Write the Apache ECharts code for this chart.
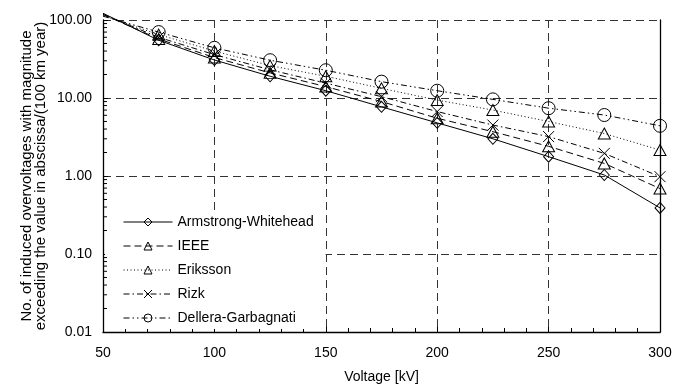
<!DOCTYPE html>
<html>
<head>
<meta charset="utf-8">
<script src="https://cdn.jsdelivr.net/npm/echarts@6/dist/echarts.min.js"></script>
<style>html,body{margin:0;padding:0;background:#fff}#c{width:686px;height:385px}</style>
</head>
<body>
<div id="c"></div>
<script>
const voltage = [50, 75, 100, 125, 150, 175, 200, 225, 250, 275, 300];
const armstrong = [122, 55, 30.7, 19, 12.4, 7.7, 4.8, 3.0, 1.77, 1.03, 0.39];
const ieee = [118, 57, 33, 21, 14, 9.0, 5.5, 3.7, 2.4, 1.45, 0.69];
const eriksson = [114, 65, 40, 26, 19, 13.3, 9.4, 7.0, 5.0, 3.5, 2.15];
const rizk = [118, 60, 36, 23, 15.5, 10.4, 6.7, 4.5, 3.2, 1.95, 0.98];
const dellera = [112, 70, 44, 30.5, 22.7, 16.2, 12.4, 9.6, 7.4, 6.05, 4.4];
const seriesNames = ['Armstrong-Whitehead', 'IEEE', 'Eriksson', 'Rizk', 'Dellera-Garbagnati'];

const font = 'Liberation Sans, Arial, sans-serif';
const fs = 14;
const xPath = 'path://M0,0L10,10M10,0L0,10';

const defs = [
  { data: armstrong, symbol: 'diamond', size: [10, 11], dash: 'solid' },
  { data: ieee, symbol: 'triangle', size: [12, 11], dash: [7, 4] },
  { data: eriksson, symbol: 'triangle', size: [12, 11], dash: [1, 2.5] },
  { data: rizk, symbol: xPath, size: [11, 11], dash: [6, 3, 1.5, 3] },
  { data: dellera, symbol: 'circle', size: 13, dash: [6, 3, 1.5, 3, 1.5, 3] }
];

const minorVals = [];
for (let e = -2; e < 2; e++) {
  for (let m = 2; m <= 9; m++) minorVals.push([50, m * Math.pow(10, e)]);
}

const series = defs.map((d, i) => ({
  name: seriesNames[i],
  type: 'line',
  clip: false,
  symbol: d.symbol,
  symbolSize: d.size,
  showAllSymbol: true,
  data: voltage.map((x, k) => k === 0 ? { value: [x, d.data[k]], symbol: 'none' } : [x, d.data[k]]),
  lineStyle: { color: '#000', width: 1, type: d.dash },
  itemStyle: { color: 'rgba(255,255,255,0)', borderColor: '#000', borderWidth: 1 },
  emphasis: { disabled: true },
  z: 3
}));

series.push({
  type: 'custom',
  silent: true,
  data: minorVals,
  renderItem: function (params, api) {
    const p = api.coord([api.value(0), api.value(1)]);
    return { type: 'line', shape: { x1: p[0], y1: p[1], x2: p[0] + 4, y2: p[1] }, style: { stroke: '#000', lineWidth: 1 } };
  },
  z: 4
});

const chart = echarts.init(document.getElementById('c'));
chart.setOption({
  animation: false,
  backgroundColor: '#fff',
  grid: { left: 103, right: 26, top: 20, bottom: 53, containLabel: false, outerBoundsMode: 'none' },
  xAxis: {
    type: 'value', min: 50, max: 300, interval: 50,
    name: 'Voltage [kV]', nameLocation: 'middle', nameGap: 38,
    nameTextStyle: { color: '#000', fontSize: fs, fontFamily: font },
    axisLine: { lineStyle: { color: '#000', width: 1.3 } },
    axisTick: { inside: true, length: 5, lineStyle: { color: '#000' } },
    minorTick: { show: true, splitNumber: 5, length: 4, lineStyle: { color: '#000' } },
    axisLabel: { color: '#000', fontSize: fs, fontFamily: font, margin: 14 },
    splitLine: { show: true, lineStyle: { color: '#333', type: [8, 5], width: 1 } }
  },
  yAxis: [{
    type: 'log', logBase: 10, min: 0.01, max: 100,
    name: 'No. of induced overvoltages with magnitude\nexceeding the value in abscissa/(100 km year)',
    nameLocation: 'middle', nameGap: 55, nameRotate: 90, nameMoveOverlap: false,
    nameTextStyle: { color: '#000', fontSize: 15, fontFamily: font, lineHeight: 14 },
    axisLine: { show: true, lineStyle: { color: '#000', width: 1.3 } },
    axisTick: { show: true, inside: true, length: 5, lineStyle: { color: '#000' } },
    axisLabel: { color: '#000', fontSize: fs, fontFamily: font, margin: 11, formatter: v => Number(v).toFixed(2) },
    splitLine: { show: true, lineStyle: { color: '#333', type: [8, 5], width: 1 } }
  }, {
    type: 'log', logBase: 10, min: 0.01, max: 100, position: 'right',
    axisLine: { show: true, lineStyle: { color: '#000', width: 1.3 } },
    axisTick: { show: false }, axisLabel: { show: false }, splitLine: { show: false }
  }],
  legend: {
    data: seriesNames,
    orient: 'vertical',
    left: 105, top: 211,
    padding: [4, 12, 4, 18],
    backgroundColor: '#fff',
    itemWidth: 49, itemHeight: 10, itemGap: 10,
    lineStyle: { width: 1 },
    itemStyle: { borderWidth: 1 },
    textStyle: { color: '#000', fontSize: fs, fontFamily: font },
    z: 2
  },
  series: series
});
</script>
</body>
</html>
